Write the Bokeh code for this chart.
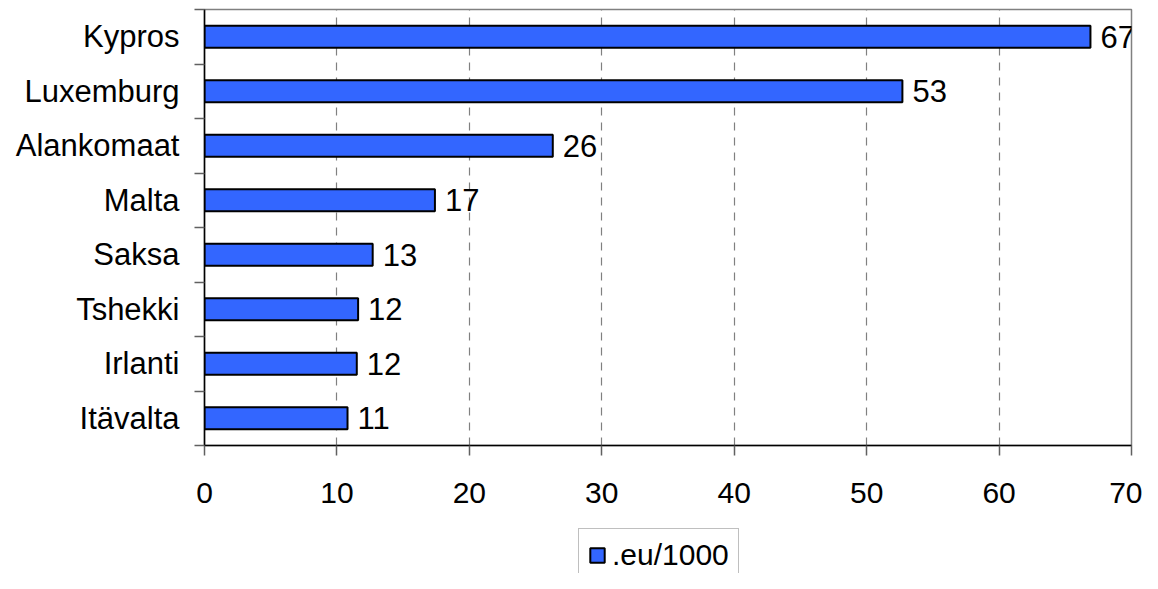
from bokeh.plotting import figure
from bokeh.layouts import column
from bokeh.models import ColumnDataSource, Range1d, FixedTicker, Legend, LegendItem
from bokeh.embed import file_html
from bokeh.resources import INLINE
from bokeh.core.properties import value

categories = ["Kypros", "Luxemburg", "Alankomaat", "Malta", "Saksa", "Tshekki", "Irlanti", "Itävalta"]
values = [66.9, 52.7, 26.3, 17.4, 12.7, 11.6, 11.5, 10.8]
labels = ["67", "53", "26", "17", "13", "12", "12", "11"]
x_ticks = [0, 10, 20, 30, 40, 50, 60, 70]
series_name = ".eu/1000"

FONT = "Liberation Sans"
BAR_FILL = "#3366FF"
n = len(categories)
ypos = [n - i for i in range(n)]
src = ColumnDataSource(dict(y=ypos, v=values, lab=labels, cat=categories))

p = figure(width=1142, height=520, output_backend="svg", toolbar_location=None,
           x_range=Range1d(x_ticks[0], x_ticks[-1]), y_range=Range1d(0.5, n + 0.5),
           min_border_left=204, min_border_right=11, min_border_top=9, min_border_bottom=75)
p.background_fill_color = "white"
p.border_fill_color = "white"
p.outline_line_color = "#808080"
p.outline_line_width = 1.5

r = p.hbar(y="y", right="v", left=0, height=0.4, source=src,
           fill_color=BAR_FILL, line_color="black", line_width=2)
p.text(x="v", y="y", text="lab", source=src, x_offset=10,
       text_baseline="middle", text_align="left",
       text_font=value(FONT), text_font_size="31px", text_color="black")

# x axis
xa = p.xaxis[0]
xa.ticker = FixedTicker(ticks=x_ticks)
xa.axis_line_color = "black"
xa.axis_line_width = 1.5
xa.major_tick_out = 10
xa.major_tick_in = 0
xa.major_tick_line_color = "#606060"
xa.major_tick_line_width = 1.5
xa.minor_tick_line_color = None
xa.major_label_text_font = FONT
xa.major_label_text_font_size = "30px"
xa.major_label_text_color = "black"
xa.major_label_standoff = 27

# y axis
ya = p.yaxis[0]
ya.ticker = FixedTicker(ticks=ypos, minor_ticks=[k + 0.5 for k in range(n + 1)])
ya.major_label_overrides = {y: c for y, c in zip(ypos, categories)}
ya.axis_line_color = "black"
ya.axis_line_width = 1.5
ya.major_tick_line_color = None
ya.major_tick_out = 0
ya.major_tick_in = 0
ya.minor_tick_out = 10
ya.minor_tick_in = 0
ya.minor_tick_line_color = "#606060"
ya.minor_tick_line_width = 1.5
ya.major_label_text_font = FONT
ya.major_label_text_font_size = "31px"
ya.major_label_text_color = "black"
ya.major_label_standoff = 15

# grid
p.ygrid.visible = False
p.xgrid.ticker = FixedTicker(ticks=x_ticks[1:-1])
p.xgrid.grid_line_color = "#808080"
p.xgrid.grid_line_dash = "8 7"
p.xgrid.grid_line_width = 1.2

# legend strip below the chart: a key-only stub (NaN coordinates, nothing is drawn in the frame)
q = figure(width=1142, height=53, output_backend="svg", toolbar_location=None,
           x_range=Range1d(x_ticks[0], x_ticks[-1]), y_range=Range1d(0, 1),
           x_axis_location=None, y_axis_location=None,
           min_border_left=204, min_border_right=11, min_border_top=0, min_border_bottom=0)
q.grid.visible = False
q.outline_line_color = None
q.background_fill_color = "white"
q.border_fill_color = "white"
key_src = ColumnDataSource(dict(y=[float("nan")], v=[float("nan")]))
rq = q.hbar(y="y", right="v", left=0, height=0.4, source=key_src,
            fill_color=BAR_FILL, line_color="black", line_width=2)

legend = Legend(items=[LegendItem(label=series_name, renderers=[rq])],
                location=(374, -9), glyph_width=18, glyph_height=18,
                label_standoff=6, padding=9, margin=0, label_height=30,
                border_line_color="#808080", border_line_width=1.5,
                background_fill_color="white", background_fill_alpha=1,
                label_text_font=FONT, label_text_font_size="30px", label_text_color="black")
q.add_layout(legend, "center")

layout = column(p, q, spacing=0)
open("out.html", "w").write(file_html(layout, INLINE))
